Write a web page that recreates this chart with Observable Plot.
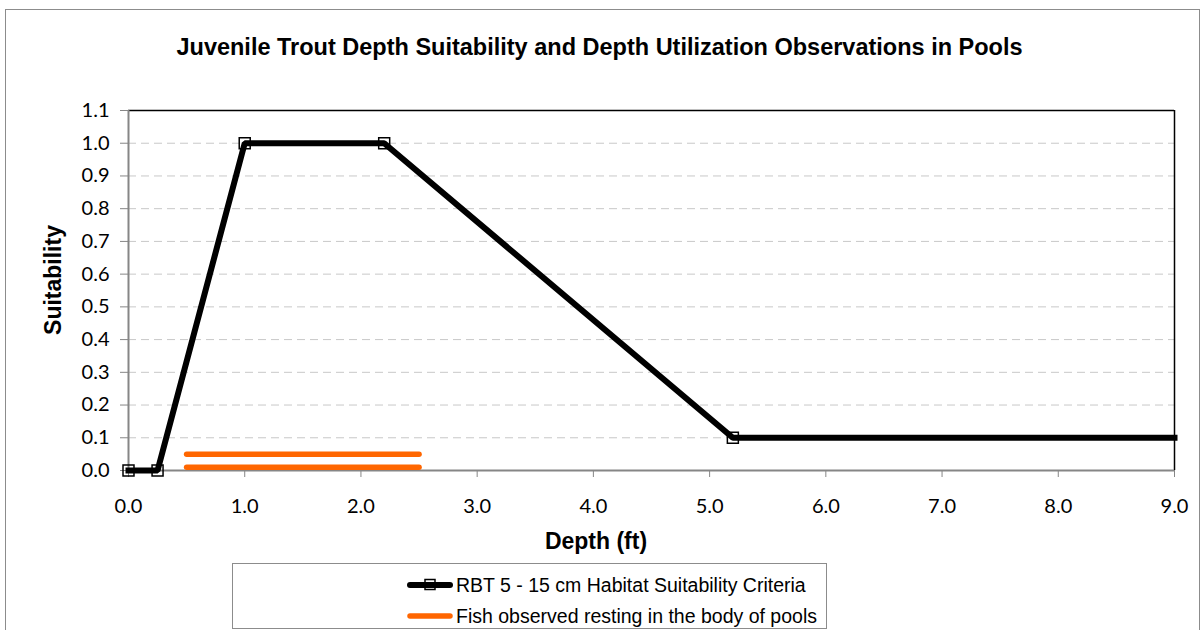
<!DOCTYPE html>
<html><head><meta charset="utf-8">
<script src="https://cdn.jsdelivr.net/npm/d3@7"></script>
<script src="https://cdn.jsdelivr.net/npm/@observablehq/plot@0.6"></script>
<style>
body{margin:0;background:#fff;}
#wrap{position:relative;width:1201px;height:630px;overflow:hidden;font-family:"Liberation Sans",Arial,sans-serif;color:#000;}
#border{position:absolute;left:5px;top:9px;width:1193px;height:660px;border:1px solid #8c8c8c;}
#title{position:absolute;top:33px;left:0;width:1199px;text-align:center;font-weight:bold;font-size:23.5px;line-height:28px;}
#chart{position:absolute;left:0;top:0;}
#xlabel{position:absolute;top:527px;left:496px;width:200px;text-align:center;font-weight:bold;font-size:23px;line-height:28px;}
#ylabel{position:absolute;left:53px;top:280px;transform:translate(-50%,-50%) rotate(-90deg);font-weight:bold;font-size:23px;line-height:28px;white-space:nowrap;}
#legend{position:absolute;left:232px;top:563px;width:595px;height:66px;border:1px solid #8c8c8c;box-sizing:border-box;background:#fff;}
.lrow{position:absolute;left:174px;height:24px;display:flex;align-items:center;font-size:19.5px;white-space:nowrap;}
.lrow svg{margin-right:3px;}
</style>
</head><body>
<div id="wrap">
  <div id="border"></div>
  <div id="title"></div>
  <div id="chart"></div>
  <div id="xlabel"></div>
  <div id="ylabel"></div>
  <div id="legend"></div>
</div>
<script>
// ---- data ----
const titleText = "Juvenile Trout Depth Suitability and Depth Utilization Observations in Pools";
const xTitle = "Depth (ft)";
const yTitle = "Suitability";
const seriesNames = ["RBT 5 - 15 cm Habitat Suitability Criteria", "Fish observed resting in the body of pools"];
const depth = [0, 0.25, 1.0, 2.2, 5.2, 9.0];
const suitability = [0, 0, 1.0, 1.0, 0.1, 0.1];
const hasMarker = [true, true, true, true, true, false];
const obsStart = [0.5, 0.5];
const obsEnd = [2.5, 2.5];
const obsLevel = [0.05, 0.01];
const xTicks = [0, 1, 2, 3, 4, 5, 6, 7, 8, 9];
const yTicks = [0, 0.1, 0.2, 0.3, 0.4, 0.5, 0.6, 0.7, 0.8, 0.9, 1.0, 1.1];

const curve = depth.map((d, i) => ({depth: d, s: suitability[i], m: hasMarker[i]}));
const obs = obsStart.map((d, i) => ({x1: d, x2: obsEnd[i], y: obsLevel[i]}));

document.getElementById("title").textContent = titleText;
document.getElementById("xlabel").textContent = xTitle;
document.getElementById("ylabel").textContent = yTitle;

const black = "#000";
const orange = "#ff6600";
const gray = "#868686";

const chart = Plot.plot({
  width: 1201,
  height: 560,
  marginLeft: 128,
  marginRight: 27,
  marginTop: 110,
  marginBottom: 90,
  style: {fontFamily: "Lato, 'Open Sans', sans-serif", fontSize: "20px", color: "#000", background: "transparent"},
  x: {domain: [0, 9]},
  y: {domain: [0, 1.1]},
  marks: [
    Plot.gridY(yTicks.filter(v => v > 0.05 && v < 1.05), {stroke: "#c8c8c8", strokeOpacity: 1, strokeDasharray: "8,5", strokeWidth: 1}),
    Plot.ruleY([1.1], {stroke: black, strokeWidth: 1.5}),
    Plot.ruleX([9], {stroke: black, strokeWidth: 1.5}),
    Plot.ruleX([0], {stroke: gray, strokeWidth: 2}),
    Plot.ruleY([0], {stroke: gray, strokeWidth: 2}),
    Plot.axisY(yTicks, {tickFormat: d => d.toFixed(1), tickSize: 8, tickPadding: 11, stroke: gray, label: null, fontSize: 20}),
    Plot.axisX(xTicks, {tickFormat: d => d.toFixed(1), tickSize: 7, tickPadding: 21, stroke: gray, label: null, fontSize: 20}),
    Plot.link(obs, {x1: "x1", x2: "x2", y1: "y", y2: "y", stroke: orange, strokeWidth: 5.5, strokeLinecap: "round"}),
    Plot.line(curve, {x: "depth", y: "s", stroke: black, strokeWidth: 6, strokeLinejoin: "miter", strokeLinecap: "square"}),
    Plot.dot(curve.filter(d => d.m), {x: "depth", y: "s", symbol: "square", r: 6.2, stroke: black, strokeWidth: 1.5, fill: "none"})
  ]
});
document.getElementById("chart").appendChild(chart);

// legend
const legend = document.getElementById("legend");
const rows = [
  {name: seriesNames[0], y: 9, svg: '<svg width="46" height="14"><line x1="3" y1="7" x2="43" y2="7" stroke="#000" stroke-width="6" stroke-linecap="round"/><rect x="18" y="1.5" width="10" height="10" fill="none" stroke="#000" stroke-width="1.5"/></svg>'},
  {name: seriesNames[1], y: 40, svg: '<svg width="46" height="14"><line x1="3" y1="7" x2="43" y2="7" stroke="' + orange + '" stroke-width="5.5" stroke-linecap="round"/></svg>'}
];
rows.forEach(r => {
  const d = document.createElement("div");
  d.className = "lrow";
  d.style.top = r.y + "px";
  d.innerHTML = r.svg + "<span></span>";
  d.querySelector("span").textContent = r.name;
  legend.appendChild(d);
});
</script>
</body></html>
